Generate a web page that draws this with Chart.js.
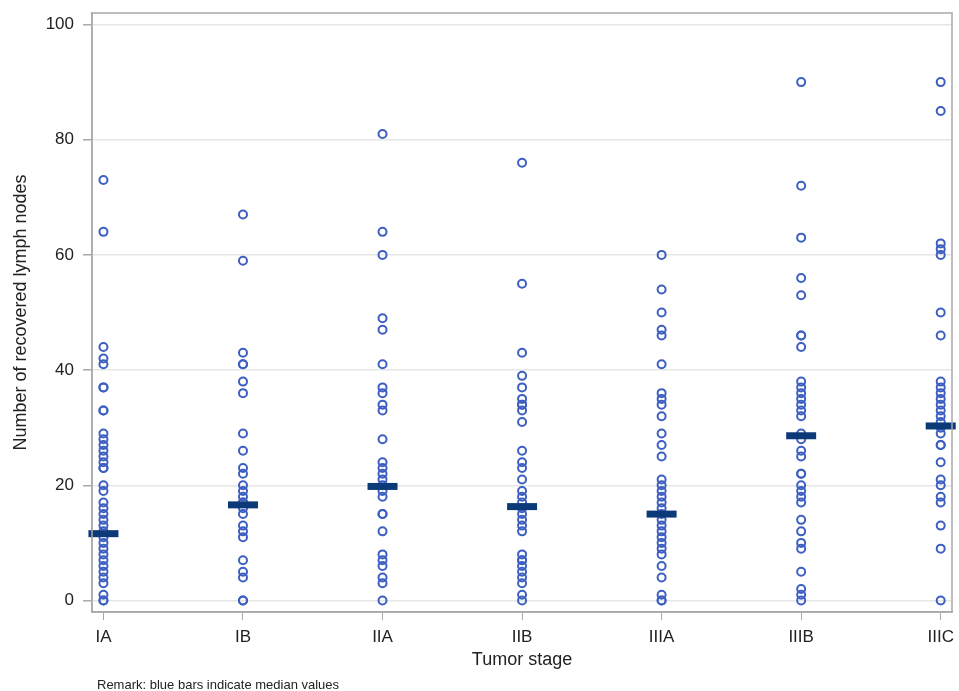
<!DOCTYPE html>
<html>
<head>
<meta charset="utf-8">
<script src="https://cdn.jsdelivr.net/npm/chart.js@4/dist/chart.umd.min.js"></script>
<style>
  html, body { margin: 0; padding: 0; background: #fff; }
  #wrap { position: relative; width: 959px; height: 691px; }
</style>
</head>
<body>
<div id="wrap"><canvas id="chart"></canvas></div>
<script>
// Tumor stages on the x axis
const stages = ['IA', 'IB', 'IIA', 'IIB', 'IIIA', 'IIIB', 'IIIC'];

// Recovered lymph nodes per patient, one array per stage
const nodesIA   = [73, 64, 44, 42, 41, 37, 37, 33, 33, 29, 28, 27, 26, 25, 24, 23, 23, 20, 19, 17, 16, 15, 14, 13, 12, 11, 10, 9, 8, 7, 6, 5, 4, 3, 1, 0, 0];
const nodesIB   = [67, 59, 43, 41, 41, 38, 36, 29, 26, 23, 22, 20, 19, 18, 17, 17, 16, 15, 13, 12, 11, 7, 5, 4, 0, 0];
const nodesIIA  = [81, 64, 60, 49, 47, 41, 37, 36, 34, 33, 28, 24, 23, 22, 21, 20, 19, 18, 15, 15, 12, 8, 7, 6, 4, 3, 0];
const nodesIIB  = [76, 55, 43, 39, 37, 35, 34, 34, 33, 31, 26, 24, 23, 21, 19, 18, 17, 16, 15, 14, 13, 12, 8, 7, 7, 6, 5, 4, 3, 1, 0];
const nodesIIIA = [60, 54, 50, 47, 46, 41, 36, 35, 34, 32, 29, 27, 25, 21, 20, 19, 18, 17, 16, 15, 14, 13, 12, 11, 10, 9, 8, 6, 4, 1, 0, 0];
const nodesIIIB = [90, 72, 63, 56, 53, 46, 46, 44, 38, 37, 36, 35, 34, 33, 32, 29, 28, 26, 25, 22, 22, 20, 19, 18, 17, 14, 12, 10, 9, 5, 2, 1, 0];
const nodesIIIC = [90, 85, 62, 61, 60, 50, 46, 38, 37, 36, 35, 34, 33, 32, 31, 30, 29, 27, 27, 24, 21, 20, 18, 17, 13, 9, 0];

// Median per stage (blue bars)
const medians = [11.6, 16.6, 19.8, 16.3, 15.0, 28.6, 30.3];

// Y axis ticks
const yTicks = [0, 20, 40, 60, 80, 100];

const allNodes = [nodesIA, nodesIB, nodesIIA, nodesIIB, nodesIIIA, nodesIIIB, nodesIIIC];

const pointData = [];
allNodes.forEach((arr, i) => {
    arr.forEach(v => pointData.push({ x: i, y: v }));
});
const medianData = medians.map((m, i) => ({ x: i, y: m }));

// frame around plot area + remark line
const framePlugin = {
    id: 'frame',
    afterDraw(chart) {
        const { ctx, chartArea } = chart;
        ctx.save();
        ctx.strokeStyle = '#a9a9a9';
        ctx.lineWidth = 1.5;
        ctx.strokeRect(chartArea.left, chartArea.top, chartArea.right - chartArea.left, chartArea.bottom - chartArea.top);
        ctx.fillStyle = '#222';
        ctx.font = '13px "Liberation Sans", Arial, sans-serif';
        ctx.textBaseline = 'middle';
        ctx.textAlign = 'left';
        ctx.fillText('Remark: blue bars indicate median values', 97, 685);
        ctx.restore();
    }
};

const font = '"Liberation Sans", Arial, Helvetica, sans-serif';

// drop the label overflow padding so the plot area stays where we put it
function noPad(scale) {
    scale.paddingLeft = 0;
    scale.paddingRight = 0;
    scale.paddingTop = 0;
    scale.paddingBottom = 0;
}

new Chart(document.getElementById('chart'), {
    type: 'scatter',
    data: {
        datasets: [
            {
                label: 'Median',
                data: medianData,
                pointStyle: 'line',
                pointRadius: 15,
                pointHoverRadius: 15,
                borderColor: '#0c3a78',
                pointBorderWidth: 7,
                clip: false,
                order: 0
            },
            {
                label: 'Lymph nodes',
                data: pointData,
                pointStyle: 'circle',
                pointRadius: 4,
                pointHoverRadius: 4,
                pointBorderWidth: 2,
                borderColor: '#3d5fc2',
                backgroundColor: 'rgba(0,0,0,0)',
                order: 1
            }
        ]
    },
    options: {
        responsive: true,
        maintainAspectRatio: false,
        animation: false,
        layout: { autoPadding: false, padding: { left: 0, right: 7, top: 13, bottom: 17 } },
        plugins: {
            legend: { display: false },
            tooltip: { enabled: false }
        },
        scales: {
            x: {
                type: 'linear',
                min: -0.082,
                max: 6.081,
                afterBuildTicks: (scale) => {
                    scale.ticks = stages.map((s, i) => ({ value: i }));
                },
                afterFit: (scale) => { scale.height = 62; noPad(scale); },
                ticks: {
                    callback: (v) => stages[v],
                    font: { family: font, size: 17 },
                    color: '#222',
                    padding: 7,
                    maxRotation: 0,
                    autoSkip: false
                },
                grid: { drawOnChartArea: false, drawTicks: true, tickLength: 8, tickColor: '#a9a9a9' },
                border: { display: true, color: '#a9a9a9', width: 1.5 },
                title: {
                    display: true,
                    text: 'Tumor stage',
                    font: { family: font, size: 18 },
                    color: '#222',
                    padding: { top: 2, bottom: 3 }
                }
            },
            y: {
                type: 'linear',
                min: -2,
                max: 102,
                afterBuildTicks: (scale) => {
                    scale.ticks = yTicks.map(v => ({ value: v }));
                },
                afterFit: (scale) => { scale.width = 92; noPad(scale); },
                ticks: {
                    font: { family: font, size: 17 },
                    color: '#222',
                    padding: 9
                },
                grid: { color: '#e6e6e6', lineWidth: 1.5, drawTicks: true, tickLength: 9, tickColor: '#a9a9a9' },
                border: { display: true, color: '#a9a9a9', width: 1.5 },
                title: {
                    display: true,
                    text: 'Number of recovered lymph nodes',
                    font: { family: font, size: 18 },
                    color: '#222',
                    padding: { top: 10, bottom: 4 }
                }
            }
        }
    },
    plugins: [framePlugin]
});
</script>
</body>
</html>
